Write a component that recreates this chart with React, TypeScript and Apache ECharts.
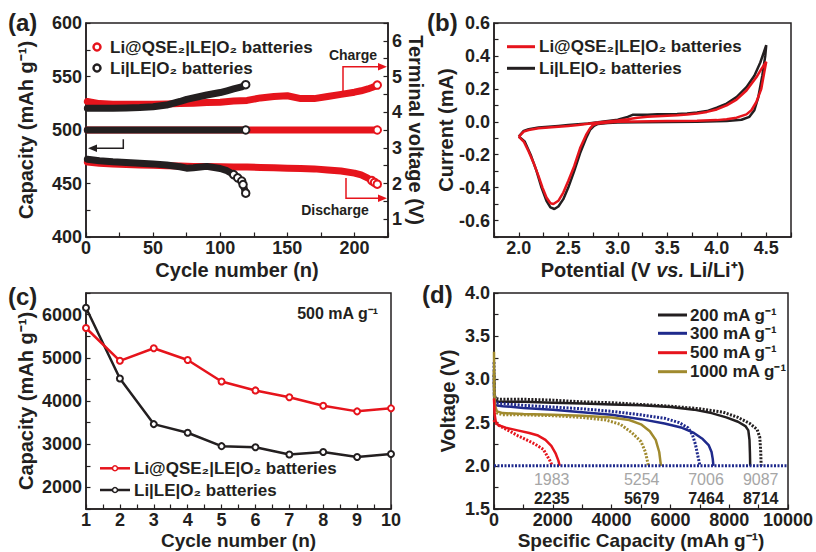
import React, { useEffect, useRef } from 'react';
import * as echarts from 'echarts';

const FONT = '"Liberation Sans", Arial, Helvetica, sans-serif';
const INK = '#231f20';
const RED = '#e6141c';
const BLUE = '#1f2a8c';
const GOLD = '#a08a2e';
const GRAY = '#a6a6a6';

const NAME_NEW = 'Li@QSE₂|LE|O₂ batteries';
const NAME_OLD = 'Li|LE|O₂ batteries';

// ---------- (a) cycling: capacity (left axis) and terminal voltage (right axis)
const aRedCycles = [1, 10, 20, 30, 40, 50, 60, 70, 80, 90, 100, 110, 120, 130, 140, 150, 160, 170, 180, 190, 200, 205, 210, 213, 215, 217];
const aRedCapacity = [500, 500, 500, 500, 500, 500, 500, 500, 500, 500, 500, 500, 500, 500, 500, 500, 500, 500, 500, 500, 500, 500, 500, 500, 500, 500];
const aRedCharge = [4.30, 4.24, 4.22, 4.22, 4.22, 4.22, 4.23, 4.24, 4.25, 4.27, 4.28, 4.31, 4.33, 4.40, 4.44, 4.46, 4.38, 4.38, 4.44, 4.50, 4.56, 4.60, 4.65, 4.69, 4.72, 4.76];
const aRedDischarge = [2.60, 2.57, 2.55, 2.53, 2.52, 2.51, 2.50, 2.49, 2.48, 2.48, 2.47, 2.46, 2.46, 2.45, 2.44, 2.43, 2.42, 2.41, 2.38, 2.35, 2.29, 2.24, 2.15, 2.08, 2.03, 1.98];

const aBlackCycles = [1, 10, 20, 30, 40, 50, 60, 70, 75, 80, 90, 100, 105, 110, 113, 116, 117, 119];
const aBlackCapacity = [500, 500, 500, 500, 500, 500, 500, 500, 500, 500, 500, 500, 500, 500, 500, 500, 500, 500];
const aBlackCharge = [4.11, 4.11, 4.11, 4.12, 4.13, 4.15, 4.20, 4.30, 4.36, 4.40, 4.48, 4.55, 4.60, 4.65, 4.68, 4.71, 4.73, 4.77];
const aBlackDischarge = [2.68, 2.64, 2.61, 2.59, 2.57, 2.55, 2.52, 2.47, 2.43, 2.44, 2.48, 2.42, 2.36, 2.25, 2.16, 2.07, 1.97, 1.73];

// ---------- (b) CV loops [potential V, current mA]
const bRedLoop: [number, number][] = [
  [2.0, -0.09], [2.05, -0.06], [2.1, -0.05], [2.2, -0.04], [2.3, -0.035], [2.4, -0.03], [2.5, -0.025], [2.6, -0.02],
  [2.7, -0.012], [2.8, -0.005], [2.9, 0.002], [3.0, 0.008], [3.1, 0.015], [3.2, 0.025], [3.3, 0.03], [3.4, 0.034],
  [3.5, 0.037], [3.6, 0.04], [3.7, 0.044], [3.8, 0.05], [3.9, 0.06], [4.0, 0.075], [4.1, 0.1], [4.2, 0.135],
  [4.3, 0.19], [4.4, 0.27], [4.45, 0.32], [4.5, 0.365],
  [4.48, 0.3], [4.45, 0.2], [4.4, 0.12], [4.35, 0.07], [4.3, 0.045], [4.2, 0.025], [4.1, 0.015], [4.0, 0.01],
  [3.8, 0.006], [3.5, 0.004], [3.2, 0.002], [3.0, 0.0], [2.9, -0.004], [2.8, -0.01], [2.75, -0.02], [2.72, -0.04],
  [2.68, -0.08], [2.62, -0.16], [2.56, -0.27], [2.5, -0.36], [2.45, -0.43], [2.4, -0.48], [2.35, -0.5], [2.32, -0.495],
  [2.28, -0.46], [2.24, -0.4], [2.2, -0.33], [2.15, -0.25], [2.1, -0.18], [2.05, -0.12], [2.0, -0.09],
];
const bBlackLoop: [number, number][] = [
  [2.0, -0.09], [2.05, -0.055], [2.1, -0.045], [2.2, -0.035], [2.3, -0.03], [2.4, -0.025], [2.5, -0.02], [2.6, -0.015],
  [2.7, -0.01], [2.8, -0.003], [2.9, 0.005], [3.0, 0.012], [3.1, 0.03], [3.15, 0.042], [3.2, 0.043], [3.3, 0.042],
  [3.4, 0.045], [3.5, 0.045], [3.6, 0.047], [3.7, 0.05], [3.8, 0.056], [3.9, 0.065], [4.0, 0.085], [4.1, 0.11],
  [4.2, 0.15], [4.3, 0.21], [4.38, 0.28], [4.44, 0.36], [4.5, 0.465],
  [4.49, 0.4], [4.46, 0.28], [4.42, 0.15], [4.38, 0.07], [4.33, 0.03], [4.25, 0.012], [4.1, 0.005], [4.0, 0.003],
  [3.8, 0.0], [3.5, -0.002], [3.2, -0.003], [3.0, -0.005], [2.9, -0.008], [2.8, -0.013], [2.76, -0.025], [2.72, -0.05],
  [2.68, -0.1], [2.62, -0.19], [2.56, -0.3], [2.5, -0.4], [2.45, -0.47], [2.4, -0.515], [2.36, -0.53], [2.32, -0.52],
  [2.28, -0.48], [2.23, -0.4], [2.18, -0.3], [2.12, -0.2], [2.06, -0.12], [2.0, -0.09],
];

// ---------- (c) capacity vs cycle at 500 mA g-1
const cCycles = [1, 2, 3, 4, 5, 6, 7, 8, 9, 10];
const cNewCapacity = [5690, 4930, 5220, 4950, 4450, 4245, 4085, 3890, 3760, 3830];
const cOldCapacity = [6160, 4520, 3465, 3265, 2955, 2930, 2760, 2820, 2705, 2775];

// ---------- (d) discharge profiles [capacity mAh g-1, voltage V]
const d200Solid: [number, number][] = [[0, 2.98], [15, 2.8], [50, 2.75], [200, 2.74], [1000, 2.74], [2000, 2.73], [3000, 2.72], [4000, 2.71], [5000, 2.7], [6000, 2.68], [6800, 2.65], [7400, 2.61], [7900, 2.56], [8300, 2.51], [8550, 2.46], [8650, 2.41], [8690, 2.3], [8705, 2.15], [8714, 2.0]];
const d200Dotted: [number, number][] = [[0, 3.05], [15, 2.82], [50, 2.78], [200, 2.77], [1000, 2.77], [2000, 2.76], [3000, 2.74], [4000, 2.73], [5000, 2.71], [6000, 2.69], [7000, 2.66], [7800, 2.62], [8300, 2.56], [8700, 2.49], [8950, 2.42], [9040, 2.33], [9070, 2.18], [9087, 2.0]];
const d300Solid: [number, number][] = [[0, 2.85], [15, 2.74], [50, 2.7], [300, 2.69], [1000, 2.67], [2000, 2.65], [3000, 2.62], [4000, 2.59], [5000, 2.54], [5800, 2.49], [6400, 2.44], [6800, 2.38], [7100, 2.31], [7300, 2.24], [7400, 2.16], [7440, 2.08], [7464, 2.0]];
const d300Dotted: [number, number][] = [[0, 3.2], [15, 2.78], [50, 2.73], [300, 2.72], [1000, 2.7], [2000, 2.68], [3000, 2.66], [4000, 2.63], [5000, 2.59], [5800, 2.55], [6300, 2.5], [6600, 2.44], [6750, 2.36], [6850, 2.25], [6930, 2.12], [7006, 2.0]];
const d500Solid: [number, number][] = [[0, 2.78], [20, 2.6], [60, 2.51], [150, 2.47], [400, 2.44], [800, 2.41], [1200, 2.38], [1500, 2.35], [1750, 2.3], [1950, 2.23], [2100, 2.14], [2190, 2.06], [2235, 2.0]];
const d500Dotted: [number, number][] = [[0, 2.53], [30, 2.5], [200, 2.46], [540, 2.4], [800, 2.35], [1110, 2.3], [1400, 2.25], [1680, 2.19], [1900, 2.06], [1983, 2.0]];
const d1000Solid: [number, number][] = [[0, 3.32], [10, 2.9], [30, 2.7], [100, 2.63], [300, 2.61], [1000, 2.6], [2000, 2.59], [3000, 2.58], [4000, 2.56], [4600, 2.53], [5000, 2.48], [5300, 2.4], [5500, 2.3], [5620, 2.16], [5679, 2.0]];
const d1000Dotted: [number, number][] = [[0, 3.1], [10, 2.8], [30, 2.66], [100, 2.61], [300, 2.59], [1000, 2.59], [2000, 2.58], [3000, 2.56], [3800, 2.53], [4300, 2.48], [4700, 2.38], [5000, 2.28], [5150, 2.16], [5254, 2.0]];
const dCutoffLine: [number, number][] = [[0, 2.0], [10000, 2.0]];
const dRateLabels = ['200 mA g⁻¹', '300 mA g⁻¹', '500 mA g⁻¹', '1000 mA g⁻¹'];
const dDottedEnds = ['1983', '5254', '7006', '9087'];
const dSolidEnds = ['2235', '5679', '7464', '8714'];

const everyStep = (step: number, digits: number) => (v: number) => {
  const r = v / step;
  if (Math.abs(r - Math.round(r)) > 1e-6) return '';
  const val = Math.abs(v) < 1e-9 ? 0 : v;
  return val.toFixed(digits);
};

function axis(extra: any) {
  const { axisLabel, nameTextStyle, ...rest } = extra;
  return {
    type: 'value',
    nameLocation: 'middle',
    nameMoveOverlap: false,
    axisLine: { show: true, onZero: false, lineStyle: { color: INK, width: 1.5 } },
    axisTick: { show: true, inside: true, length: 4.5, lineStyle: { color: INK, width: 1.2 } },
    splitLine: { show: false },
    minorTick: { show: false },
    ...rest,
    nameTextStyle: { color: INK, fontFamily: FONT, fontWeight: 'bold', fontSize: 20, ...(nameTextStyle || {}) },
    axisLabel: {
      color: INK, fontFamily: FONT, fontWeight: 'bold', fontSize: 18, margin: 4,
      hideOverlap: false, showMinLabel: true, showMaxLabel: true, ...(axisLabel || {}),
    },
  };
}

function band(name: string, cycles: number[], values: number[], color: string, yAxisIndex: number, tail: number) {
  return {
    type: 'line', name, xAxisIndex: 0, yAxisIndex,
    data: cycles.map((c, i) => (i >= cycles.length - tail
      ? { value: [c, values[i]], symbol: 'emptyCircle', symbolSize: 7.5 }
      : [c, values[i]])),
    symbol: 'none', showSymbol: true, showAllSymbol: true,
    lineStyle: { color, width: 7, cap: 'round', join: 'round' },
    itemStyle: { color, borderColor: color, borderWidth: 2.5 },
    silent: true,
  };
}

function curve(data: [number, number][], color: string, dotted: boolean) {
  return {
    type: 'line', xAxisIndex: 3, yAxisIndex: 4, data, symbol: 'none', silent: true,
    lineStyle: { color, width: dotted ? 3 : 2.5, type: dotted ? [2, 1.5] : 'solid' },
  };
}

const txt = (x: number, y: number, text: string, size: number, extra: any = {}) => ({
  type: 'text', x, y, z: 100,
  style: { text, fontFamily: FONT, fontSize: size, fontWeight: 'bold', fill: INK, align: 'left', verticalAlign: 'middle', ...extra },
});
const seg = (x1: number, y1: number, x2: number, y2: number, stroke: string, lineWidth: number) => ({
  type: 'line', z: 100, shape: { x1, y1, x2, y2 }, style: { stroke, lineWidth },
});
const dot = (cx: number, cy: number, r: number, stroke: string, lineWidth: number) => ({
  type: 'circle', z: 101, shape: { cx, cy, r }, style: { fill: '#fff', stroke, lineWidth },
});

function buildGraphic() {
  const g: any[] = [];
  g.push(txt(8, 22, '(a)', 24), txt(427, 22, '(b)', 24), txt(8, 296, '(c)', 24), txt(422, 294, '(d)', 24));
  // (a) legend
  g.push(dot(97, 47, 3.5, RED, 2.5), txt(110, 47, NAME_NEW, 17));
  g.push(dot(97, 68, 3.5, INK, 2.5), txt(110, 68, NAME_OLD, 17));
  // (a) annotations
  g.push({ type: 'polyline', z: 100, shape: { points: [[343, 93], [343, 66.7], [380, 66.7]] }, style: { stroke: RED, lineWidth: 1.5, fill: null } });
  g.push({ type: 'polygon', z: 100, shape: { points: [[387, 66.7], [378, 63], [378, 70.4]] }, style: { fill: RED } });
  g.push({ type: 'polyline', z: 100, shape: { points: [[346, 178], [346, 198.3], [380, 198.3]] }, style: { stroke: RED, lineWidth: 1.5, fill: null } });
  g.push({ type: 'polygon', z: 100, shape: { points: [[387, 198.3], [378, 194.6], [378, 202]] }, style: { fill: RED } });
  g.push({ type: 'polyline', z: 100, shape: { points: [[123.3, 139.3], [123.3, 148.3], [95, 148.3]] }, style: { stroke: INK, lineWidth: 1.5, fill: null } });
  g.push({ type: 'polygon', z: 100, shape: { points: [[88, 148.3], [97, 144.6], [97, 152]] }, style: { fill: INK } });
  g.push(txt(353, 55, 'Charge', 14, { align: 'center' }));
  g.push(txt(335, 210, 'Discharge', 14, { align: 'center' }));
  // (b) legend
  g.push(seg(507, 46.7, 535, 46.7, RED, 3), txt(539, 46.7, NAME_NEW, 17));
  g.push(seg(507, 68.3, 535, 68.3, INK, 3), txt(539, 68.3, NAME_OLD, 17));
  // (c) legend + note
  g.push(seg(100, 468.3, 130, 468.3, RED, 2.5), dot(115, 468.3, 2.5, RED, 1.5), txt(134, 468.3, NAME_NEW, 17));
  g.push(seg(100, 490, 130, 490, INK, 2.5), dot(115, 490, 2.5, INK, 1.5), txt(134, 490, NAME_OLD, 17));
  g.push(txt(378, 313, '500 mA g⁻¹', 16, { align: 'right' }));
  // (d) legend
  const legColors = [INK, BLUE, RED, GOLD];
  const legY = [315, 333.3, 352.7, 371.7];
  dRateLabels.forEach((t, i) => {
    g.push(seg(658, legY[i], 687, legY[i], legColors[i], 3), txt(690, legY[i], t, 17));
  });
  // (d) end capacities
  const endX = [551.7, 641.7, 706, 760.7];
  dDottedEnds.forEach((t, i) => g.push(txt(endX[i], 479, t, 16, { align: 'center', fill: GRAY, fontWeight: 'normal' })));
  dSolidEnds.forEach((t, i) => g.push(txt(endX[i], 498, t, 16, { align: 'center' })));
  return g;
}

export default function App() {
  const ref = useRef<HTMLDivElement>(null);
  useEffect(() => {
    if (!ref.current) return;
    const chart = echarts.init(ref.current, undefined, { renderer: 'svg' });
    const gridBase = { show: true, borderColor: INK, borderWidth: 1.5, backgroundColor: 'transparent', containLabel: false, outerBoundsMode: 'none' };
    const xLabel = { margin: 2 };
    const option: any = {
      animation: false,
      backgroundColor: '#ffffff',
      grid: [
        { ...gridBase, left: 86, top: 23, width: 302, height: 214 },
        { ...gridBase, left: 494, top: 23, width: 297, height: 214 },
        { ...gridBase, left: 86, top: 293, width: 305, height: 216 },
        { ...gridBase, left: 494, top: 293, width: 294, height: 216 },
      ],
      xAxis: [
        axis({ gridIndex: 0, min: 0, max: 225, interval: 25, name: 'Cycle number (n)', nameGap: 23, axisLabel: { ...xLabel, formatter: everyStep(50, 0) } }),
        axis({
          gridIndex: 1, min: 1.75, max: 4.75, interval: 0.25, name: 'Potential (V {i|vs.} Li/Li⁺)', nameGap: 23,
          nameTextStyle: { rich: { i: { fontStyle: 'italic', fontWeight: 'bold', fontFamily: FONT, fontSize: 20, color: INK } } },
          axisLabel: { ...xLabel, formatter: everyStep(0.5, 1) },
        }),
        axis({ gridIndex: 2, min: 1, max: 10, interval: 0.5, name: 'Cycle number (n)', nameGap: 22, nameTextStyle: { fontSize: 19 }, axisLabel: { ...xLabel, formatter: everyStep(1, 0) } }),
        axis({ gridIndex: 3, min: 0, max: 10000, interval: 1000, name: 'Specific Capacity (mAh g⁻¹)', nameGap: 22, nameTextStyle: { fontSize: 19 }, axisLabel: { ...xLabel, formatter: everyStep(2000, 0) } }),
      ],
      yAxis: [
        axis({ gridIndex: 0, min: 400, max: 600, interval: 25, name: 'Capacity (mAh g⁻¹)', nameGap: 50, axisLabel: { formatter: everyStep(50, 0) } }),
        axis({ gridIndex: 0, position: 'right', min: 0.5, max: 6.5, interval: 0.5, name: 'Terminal voltage (V)', nameRotate: -90, nameGap: 18, axisLabel: { formatter: everyStep(1, 0) } }),
        axis({ gridIndex: 1, min: -0.7, max: 0.6, interval: 0.1, name: 'Current (mA)', nameGap: 38, axisLabel: { formatter: everyStep(0.2, 1) } }),
        axis({ gridIndex: 2, min: 1500, max: 6500, interval: 500, name: 'Capacity (mAh g⁻¹)', nameGap: 50, axisLabel: { formatter: everyStep(1000, 0) } }),
        axis({ gridIndex: 3, min: 1.5, max: 4.0, interval: 0.25, name: 'Voltage (V)', nameGap: 36, axisLabel: { formatter: everyStep(0.5, 1) } }),
      ],
      series: [
        band(NAME_NEW, aRedCycles, aRedCapacity, RED, 0, 1),
        band(NAME_NEW, aRedCycles, aRedCharge, RED, 1, 1),
        band(NAME_NEW, aRedCycles, aRedDischarge, RED, 1, 3),
        band(NAME_OLD, aBlackCycles, aBlackCapacity, INK, 0, 1),
        band(NAME_OLD, aBlackCycles, aBlackCharge, INK, 1, 1),
        band(NAME_OLD, aBlackCycles, aBlackDischarge, INK, 1, 5),
        { type: 'line', name: NAME_OLD, xAxisIndex: 1, yAxisIndex: 2, data: bBlackLoop, symbol: 'none', silent: true, lineStyle: { color: INK, width: 2.5 } },
        { type: 'line', name: NAME_NEW, xAxisIndex: 1, yAxisIndex: 2, data: bRedLoop, symbol: 'none', silent: true, lineStyle: { color: RED, width: 2.5 } },
        {
          type: 'line', name: NAME_OLD, xAxisIndex: 2, yAxisIndex: 3, silent: true,
          data: cCycles.map((c, i) => [c, cOldCapacity[i]]),
          symbol: 'emptyCircle', symbolSize: 6, lineStyle: { color: INK, width: 2.5 },
          itemStyle: { color: INK, borderColor: INK, borderWidth: 1.5 },
        },
        {
          type: 'line', name: NAME_NEW, xAxisIndex: 2, yAxisIndex: 3, silent: true,
          data: cCycles.map((c, i) => [c, cNewCapacity[i]]),
          symbol: 'emptyCircle', symbolSize: 6, lineStyle: { color: RED, width: 2.5 },
          itemStyle: { color: RED, borderColor: RED, borderWidth: 1.5 },
        },
        curve(d200Solid, INK, false),
        curve(d200Dotted, INK, true),
        curve(d300Solid, BLUE, false),
        curve(d300Dotted, BLUE, true),
        curve(d1000Solid, GOLD, false),
        curve(d1000Dotted, GOLD, true),
        curve(d500Solid, RED, false),
        curve(d500Dotted, RED, true),
        { ...curve(dCutoffLine, BLUE, true), lineStyle: { color: BLUE, width: 3, type: [2, 1.5] } },
      ],
      graphic: buildGraphic(),
    };
    chart.setOption(option);
    return () => chart.dispose();
  }, []);
  return <div ref={ref} style={{ position: 'absolute', left: 0, top: 0, width: 816, height: 552, background: '#fff' }} />;
}
